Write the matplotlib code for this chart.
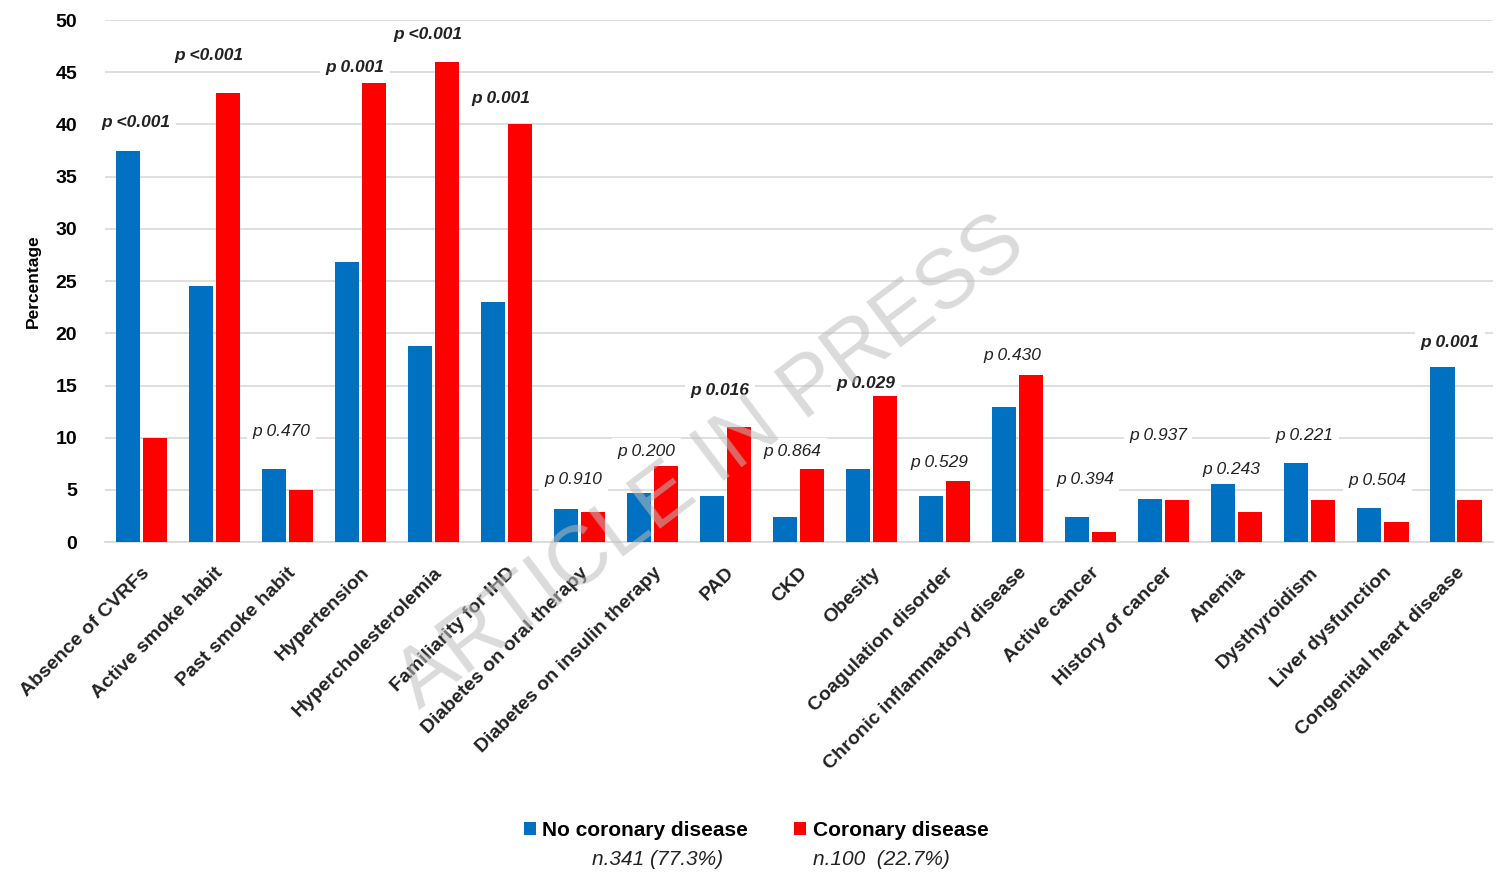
"""
Risk factor prevalence by coronary disease status.
"""

import matplotlib.pyplot as plt
import numpy as np

plt.rcParams["font.family"] = ["Liberation Sans", "DejaVu Sans"]

categories = [
    "Absence of CVRFs", "Active smoke habit", "Past smoke habit", "Hypertension",
    "Hypercholesterolemia", "Familiarity for IHD", "Diabetes on oral therapy",
    "Diabetes on insulin therapy", "PAD", "CKD", "Obesity", "Coagulation disorder",
    "Chronic inflammatory disease", "Active cancer", "History of cancer", "Anemia",
    "Dysthyroidism", "Liver dysfunction", "Congenital heart disease",
]
no_coronary = [37.5, 24.5, 7.0, 26.8, 18.8, 23.0, 3.2, 4.7, 4.4, 2.4, 7.0, 4.4,
               12.9, 2.4, 4.1, 5.6, 7.6, 3.3, 16.8]
coronary = [10.0, 43.0, 5.0, 44.0, 46.0, 40.0, 2.9, 7.3, 11.0, 7.0, 14.0, 5.9,
            16.0, 1.0, 4.0, 2.9, 4.0, 1.9, 4.0]
p_labels = ["p <0.001", "p <0.001", "p 0.470", "p 0.001", "p <0.001", "p 0.001",
            "p 0.910", "p 0.200", "p 0.016", "p 0.864", "p 0.029", "p 0.529",
            "p 0.430", "p 0.394", "p 0.937", "p 0.243", "p 0.221", "p 0.504",
            "p 0.001"]
p_heights = [40.2, 46.6, 10.6, 45.5, 48.6, 42.5, 6.0, 8.7, 14.5, 8.7, 15.2, 7.6,
             17.9, 6.0, 10.2, 7.0, 10.2, 5.9, 19.1]
significant = [True, True, False, True, True, True, False, False, True, False,
               True, False, False, False, False, False, False, False, True]

blue = "#0070C0"
red = "#FF0000"

fig = plt.figure(figsize=(14.97, 8.73), dpi=100)
ax = fig.add_axes([0.070, 0.379, 0.927, 0.598])

x = np.arange(len(categories))
w = 0.33
ax.bar(x - 0.185, no_coronary, width=w, color=blue, zorder=3,
       label="No coronary disease")
ax.bar(x + 0.185, coronary, width=w, color=red, zorder=3,
       label="Coronary disease")

for xi, lab, h, sig in zip(x, p_labels, p_heights, significant):
    ax.text(xi - 0.08, h, lab, ha="center", va="center", fontsize=12.5,
            style="italic", weight="bold" if sig else "normal",
            color="#222222", zorder=4,
            bbox=dict(facecolor="white", edgecolor="none", pad=4))

ax.set_xlim(-0.5, len(categories) - 0.5)
ax.set_ylim(0, 50)
ax.set_yticks(range(0, 51, 5))
ax.yaxis.grid(True, color="#d9d9d9", linewidth=1.2, zorder=0)
ax.set_axisbelow(True)
for side in ["left", "right", "top"]:
    ax.spines[side].set_visible(False)
ax.spines["bottom"].set_color("#d9d9d9")
ax.spines["bottom"].set_linewidth(1.2)
ax.tick_params(axis="both", length=0)
ax.tick_params(axis="y", labelsize=14, pad=20)
for t in ax.get_yticklabels():
    t.set_fontweight("bold")

ax.set_xticks(x)
ax.set_xticklabels(categories, rotation=45, ha="right", rotation_mode="anchor",
                   fontsize=14, fontweight="bold", color="#222222")
ax.tick_params(axis="x", pad=16)
ax.set_ylabel("Percentage", fontsize=12.5, fontweight="bold", labelpad=10)

leg = fig.legend(loc="center", bbox_to_anchor=(0.505, 0.049), ncol=2,
                 frameon=False, fontsize=15, handlelength=0.6,
                 handleheight=0.6, handletextpad=0.3, columnspacing=2.2)
for t in leg.get_texts():
    t.set_fontweight("bold")

fig.text(0.439, 0.016, "n.341 (77.3%)", ha="center", va="center",
         fontsize=15, style="italic", color="#222222")
fig.text(0.589, 0.016, "n.100  (22.7%)", ha="center", va="center",
         fontsize=15, style="italic", color="#222222")

fig.text(0.475, 0.47, "ARTICLE IN PRESS", ha="center", va="center",
         fontsize=60, rotation=37, color="#bdbdbd", alpha=0.55, zorder=10)

fig.savefig("out.png", dpi=100)
plt.close(fig)
